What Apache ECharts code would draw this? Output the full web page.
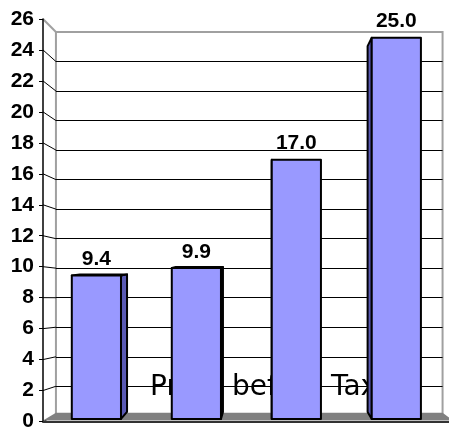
<!DOCTYPE html>
<html>
<head>
<meta charset="utf-8">
<script src="https://cdn.jsdelivr.net/npm/echarts@6/dist/echarts.min.js"></script>
<style>html,body{margin:0;padding:0;background:#fff}#c{width:449px;height:432px}</style>
</head>
<body>
<div id="c"></div>
<script>
// ---- data ----
const categories = ['1', '2', '3', '4'];
const profitValues = [9.4, 9.9, 17.0, 25.0];
const yMin = 0, yMax = 26, yStep = 2;
const axisTitle = 'Profit before Tax';

// ---- layout / styling ----
const FRONT = { left: 43, right: -4, top: 19, bottom: 6 };
const W = 449, H = 432;
const VP = [270, 247];          // perspective vanishing point
const S_WALL = 0.943, S_FRONT = 0.985, S_BACK = 0.945;
const frontRightX = W - FRONT.right;
const frontBottomY = H - FRONT.bottom;
const proj = (x, y, s) => [VP[0] + s * (x - VP[0]), VP[1] + s * (y - VP[1])];
const backTL = proj(FRONT.left, FRONT.top, S_WALL);
const backBR = proj(frontRightX, frontBottomY, S_WALL);
const BACK = { left: backTL[0], top: backTL[1], right: W - backBR[0], bottom: H - backBR[1] };

const LABEL_FONT = 'Arial, "Liberation Sans", sans-serif';
const BAR_FILL = '#9999ff', SIDE_FILL = '#5a5ab4', TOP_FILL = '#7070cc';

function renderBar(params, api) {
  const ci = api.value(0), v = api.value(1);
  const top = api.coord([ci, v]);
  const base = api.coord([ci, 0]);
  const hw = api.size([1, 0])[0] * 0.246;
  const L = top[0] - hw, R = top[0] + hw;
  const fTL = proj(L, top[1], S_FRONT), fTR = proj(R, top[1], S_FRONT);
  const fBL = proj(L, base[1], S_FRONT), fBR = proj(R, base[1], S_FRONT);
  const bTL = proj(L, top[1], S_BACK), bTR = proj(R, top[1], S_BACK);
  const bBL = proj(L, base[1], S_BACK), bBR = proj(R, base[1], S_BACK);
  const st = { stroke: '#000', lineWidth: 2, lineJoin: 'round' };
  const children = [];
  if (R < VP[0]) children.push({ type: 'polygon', shape: { points: [fTR, bTR, bBR, fBR] }, style: Object.assign({ fill: SIDE_FILL }, st) });
  if (L > VP[0]) children.push({ type: 'polygon', shape: { points: [fTL, bTL, bBL, fBL] }, style: Object.assign({ fill: SIDE_FILL }, st) });
  if (top[1] > VP[1]) children.push({ type: 'polygon', shape: { points: [fTL, fTR, bTR, bTL] }, style: Object.assign({ fill: TOP_FILL }, st) });
  children.push({ type: 'rect', shape: { x: fTL[0], y: fTL[1], width: fTR[0] - fTL[0], height: fBL[1] - fTL[1] }, style: Object.assign({ fill: BAR_FILL }, st) });
  children.push({ type: 'text', z2: 10, style: { x: (fTL[0] + fTR[0]) / 2, y: fTL[1] - 16, text: v.toFixed(1), align: 'center', verticalAlign: 'middle',
    fontSize: 21, fontWeight: 'bold', fontFamily: LABEL_FONT, fill: '#000' } });
  return { type: 'group', children };
}

const chart = echarts.init(document.getElementById('c'), null, { renderer: 'canvas' });

const option = {
  animation: false,
  backgroundColor: '#fff',
  grid: [
    { left: BACK.left, right: BACK.right, top: BACK.top, bottom: BACK.bottom, show: true, borderColor: '#a0a0a0', borderWidth: 2, backgroundColor: 'transparent' },
    { left: FRONT.left, right: FRONT.right, top: FRONT.top, bottom: FRONT.bottom }
  ],
  xAxis: [
    { gridIndex: 0, type: 'category', data: categories, show: false },
    { gridIndex: 1, type: 'category', data: categories, z: 6,
      axisLine: { lineStyle: { color: '#333', width: 2 } },
      axisTick: { length: 6, lineStyle: { color: '#444', width: 1 } },
      axisLabel: { show: false }, splitLine: { show: false } }
  ],
  yAxis: [
    { gridIndex: 0, type: 'value', min: yMin, max: yMax, interval: yStep, z: 0,
      axisLine: { show: false }, axisTick: { show: false }, axisLabel: { show: false },
      splitLine: { show: true, showMinLine: false, showMaxLine: false, lineStyle: { color: '#000', width: 1 } } },
    { gridIndex: 1, type: 'value', min: yMin, max: yMax, interval: yStep, z: 6,
      axisLine: { show: true, lineStyle: { color: '#000', width: 1.5 } },
      axisTick: { show: true, length: 4, lineStyle: { color: '#000', width: 1 } },
      axisLabel: { margin: 9, color: '#000', fontWeight: 'bold', fontSize: 21, fontFamily: LABEL_FONT },
      splitLine: { show: false } }
  ],
  series: [{
    type: 'custom', xAxisIndex: 1, yAxisIndex: 1, z: 5,
    data: profitValues.map((v, i) => [i, v]),
    renderItem: renderBar
  }]
};
chart.setOption(option);

// ---- walls, floor and title (second pass, using the axes' own scales) ----
const ticks = [];
for (let v = yMin; v <= yMax; v += yStep) ticks.push(v);
const graphics = [];
ticks.forEach((v) => {
  const fy = chart.convertToPixel({ yAxisIndex: 1 }, v);
  const by = chart.convertToPixel({ yAxisIndex: 0 }, v);
  graphics.push({ type: 'line', z: 1, shape: { x1: FRONT.left, y1: fy, x2: BACK.left, y2: by },
    style: { stroke: v === yMax ? '#a0a0a0' : '#000', lineWidth: v === yMax ? 2 : 1 } });
});
const fy0 = chart.convertToPixel({ yAxisIndex: 1 }, 0);
const by0 = chart.convertToPixel({ yAxisIndex: 0 }, 0);
graphics.push({ type: 'polygon', z: 2, shape: { points: [
  [FRONT.left, fy0 - 1], [frontRightX, fy0 - 1], [W - BACK.right, by0 - 3], [BACK.left, by0 - 3]
] }, style: { fill: '#808080' } });
graphics.push({ type: 'text', z: 3, style: { x: 150, y: 388, text: axisTitle, fontSize: 28, fontFamily: '"DejaVu Sans", sans-serif', fill: '#000', align: 'left', verticalAlign: 'middle' } });
chart.setOption({ graphic: graphics });
</script>
</body>
</html>
